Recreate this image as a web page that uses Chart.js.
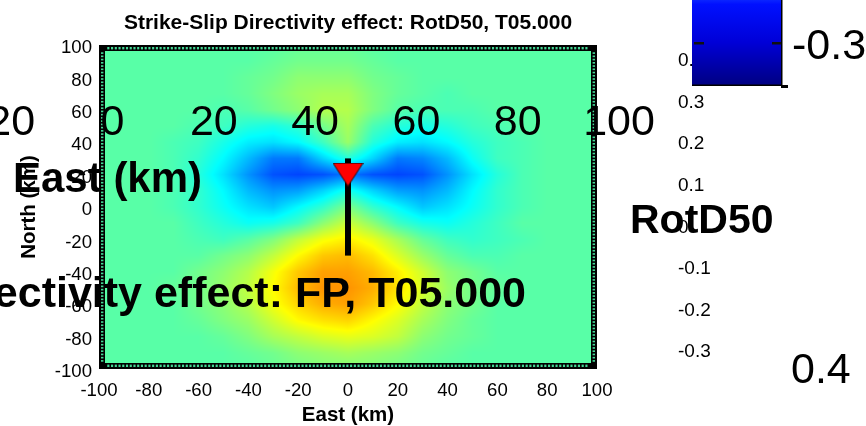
<!DOCTYPE html>
<html>
<head>
<meta charset="utf-8">
<script src="https://cdn.jsdelivr.net/npm/chart.js@4.4.1/dist/chart.umd.min.js"></script>
<style>
  html, body { margin: 0; padding: 0; background: #ffffff; }
  canvas { display: block; }
</style>
</head>
<body>
<canvas id="map" width="866" height="426"></canvas>
<script>
// Grid nodes of the directivity field (km)
const eastKm = [-100, -90, -80, -70, -60, -50, -40, -30, -20, -10, 0, 10, 20, 30, 40, 50, 60, 70, 80, 90, 100];
const northKm = [100, 90, 80, 70, 60, 50, 40, 30, 20, 10, 0, -10, -20, -30, -40, -50, -60, -70, -80, -90, -100];

// RotD50 directivity effect, one row per northKm value, one column per eastKm value
const rotd50Effect = [
  [0, 0, 0, 0, 0, 0, 0, 0, 0.01, 0.01, 0.01, 0, 0, 0, 0, 0, 0, 0, 0, 0, 0],
  [0, 0, 0, 0, 0, 0, 0, 0.01, 0.02, 0.02, 0.02, 0.01, 0, 0, 0, 0, 0, 0, 0, 0, 0],
  [0, 0, 0, 0, 0, 0, 0.01, 0.02, 0.04, 0.04, 0.04, 0.02, 0.01, 0, 0, 0, 0, 0, 0, 0, 0],
  [0, 0, 0, 0, 0, 0, 0.01, 0.03, 0.05, 0.06, 0.06, 0.03, 0.01, 0, -0.01, 0, 0, 0, 0, 0, 0],
  [0, 0, 0, 0, 0, -0.01, 0, 0.02, 0.04, 0.07, 0.07, 0.03, 0, -0.01, -0.01, -0.01, 0, 0, 0, 0, 0],
  [0, 0, 0, 0, -0.01, -0.02, -0.04, -0.05, -0.03, 0.02, 0.06, -0.01, -0.04, -0.05, -0.04, -0.02, -0.01, 0, 0, 0, 0],
  [0, 0, 0, -0.01, -0.02, -0.05, -0.08, -0.09, -0.07, -0.02, 0.05, -0.04, -0.08, -0.09, -0.07, -0.04, -0.02, -0.01, 0, 0, 0],
  [0, 0, 0, -0.01, -0.03, -0.07, -0.12, -0.17, -0.17, -0.10, -0.04, -0.10, -0.17, -0.16, -0.12, -0.06, -0.02, -0.01, 0, 0, 0],
  [0, 0, 0, -0.01, -0.04, -0.09, -0.15, -0.20, -0.21, -0.20, -0.17, -0.20, -0.21, -0.20, -0.15, -0.09, -0.04, -0.01, 0, 0, 0],
  [0, 0, 0, -0.01, -0.03, -0.07, -0.12, -0.15, -0.14, -0.10, -0.05, -0.10, -0.14, -0.15, -0.12, -0.07, -0.03, -0.01, 0, 0, 0],
  [0, 0, 0, -0.01, -0.03, -0.06, -0.09, -0.11, -0.07, -0.03, 0.03, -0.03, -0.07, -0.11, -0.09, -0.06, -0.03, -0.01, 0, 0, 0],
  [0, 0, 0, 0, -0.02, -0.04, -0.06, -0.05, -0.02, 0.04, 0.09, 0.04, -0.02, -0.05, -0.06, -0.04, -0.02, 0, 0, 0, 0],
  [0, 0, 0, 0, -0.01, -0.02, 0, 0.03, 0.08, 0.12, 0.14, 0.11, 0.06, 0.01, -0.02, -0.03, -0.02, -0.01, 0, 0, 0],
  [0, 0, 0, 0, 0, 0.02, 0.04, 0.08, 0.13, 0.17, 0.18, 0.15, 0.10, 0.05, 0.01, -0.01, -0.01, 0, 0, 0, 0],
  [0, 0, 0, 0, 0.02, 0.04, 0.07, 0.12, 0.17, 0.20, 0.20, 0.18, 0.14, 0.09, 0.04, 0.02, 0, 0, 0, 0, 0],
  [0, 0, 0, 0.01, 0.02, 0.05, 0.08, 0.13, 0.18, 0.21, 0.21, 0.19, 0.15, 0.10, 0.05, 0.02, 0.01, 0, 0, 0, 0],
  [0, 0, 0, 0, 0.02, 0.04, 0.07, 0.12, 0.16, 0.19, 0.20, 0.17, 0.13, 0.08, 0.04, 0.02, 0, 0, 0, 0, 0],
  [0, 0, 0, 0, 0.01, 0.03, 0.05, 0.09, 0.13, 0.15, 0.16, 0.13, 0.10, 0.06, 0.03, 0.01, 0, 0, 0, 0, 0],
  [0, 0, 0, 0, 0, 0.01, 0.03, 0.06, 0.08, 0.10, 0.11, 0.10, 0.08, 0.04, 0.02, 0.01, 0, 0, 0, 0, 0],
  [0, 0, 0, 0, 0, 0, 0.01, 0.02, 0.04, 0.05, 0.06, 0.05, 0.04, 0.02, 0.01, 0, 0, 0, 0, 0, 0],
  [0, 0, 0, 0, 0, 0, 0, 0.01, 0.02, 0.03, 0.03, 0.03, 0.02, 0.01, 0, 0, 0, 0, 0, 0, 0]
];

// Fault trace and hypocentre
const faultEast = [0, 0];
const faultNorth = [-30, 30];
const hypoEast = [0];
const hypoNorth = [20];

// Colour limits of the jet scale
const colorLimits = [-0.36, 0.42];

// Texts
const mainTitle = 'Strike-Slip Directivity effect: RotD50, T05.000';
const wideTitle = 'Strike-Slip Directivity effect: FP, T05.000';
const colorbarTickLabels = ['0.4', '0.3', '0.2', '0.1', '0', '-0.1', '-0.2', '-0.3'];
const wideEastTickLabels = ['-20', '0', '20', '40', '60', '80', '100'];

const SANS = '"Liberation Sans", Arial, Helvetica, sans-serif';

function jet(t) {
  t = Math.max(0, Math.min(1, t));
  const c = v => Math.max(0, Math.min(1, v));
  return [c(1.5 - Math.abs(4 * t - 3)), c(1.5 - Math.abs(4 * t - 2)), c(1.5 - Math.abs(4 * t - 1))];
}

function sampleField(e, n) {
  const nc = eastKm.length, nr = northKm.length;
  let fc = (e - eastKm[0]) / (eastKm[1] - eastKm[0]);
  let fr = (northKm[0] - n) / (northKm[0] - northKm[1]);
  fc = Math.max(0, Math.min(nc - 1, fc));
  fr = Math.max(0, Math.min(nr - 1, fr));
  const c0 = Math.min(nc - 2, Math.floor(fc)), r0 = Math.min(nr - 2, Math.floor(fr));
  const tc = fc - c0, tr = fr - r0;
  const a = rotd50Effect[r0][c0], b = rotd50Effect[r0][c0 + 1];
  const c = rotd50Effect[r0 + 1][c0], d = rotd50Effect[r0 + 1][c0 + 1];
  return (a * (1 - tc) + b * tc) * (1 - tr) + (c * (1 - tc) + d * tc) * tr;
}

// Filled field drawn behind the fault and hypocentre
const fieldPlugin = {
  id: 'fieldPlugin',
  beforeDatasetsDraw(chart) {
    const { ctx, chartArea: ca, scales: { x, y } } = chart;
    const w = Math.round(ca.right - ca.left), h = Math.round(ca.bottom - ca.top);
    const off = document.createElement('canvas');
    off.width = w; off.height = h;
    const octx = off.getContext('2d');
    const img = octx.createImageData(w, h);
    const span = colorLimits[1] - colorLimits[0];
    for (let j = 0; j < h; j++) {
      const n = y.getValueForPixel(ca.top + j + 0.5);
      for (let i = 0; i < w; i++) {
        const e = x.getValueForPixel(ca.left + i + 0.5);
        const v = sampleField(e, n);
        const rgb = jet((v - colorLimits[0]) / span);
        const k = (j * w + i) * 4;
        img.data[k] = Math.round(rgb[0] * 255);
        img.data[k + 1] = Math.round(rgb[1] * 255);
        img.data[k + 2] = Math.round(rgb[2] * 255);
        img.data[k + 3] = 255;
      }
    }
    octx.putImageData(img, 0, 0);
    ctx.drawImage(off, ca.left, ca.top);
  }
};

// Heavy axes box with crowded minor ticks
const framePlugin = {
  id: 'framePlugin',
  afterDatasetsDraw(chart) {
    const { ctx, chartArea: { left, right, top, bottom }, scales: { x, y } } = chart;
    const band = 6;
    ctx.save();
    ctx.fillStyle = '#000';
    ctx.fillRect(left, top, right - left, band);
    ctx.fillRect(left, bottom - band, right - left, band);
    ctx.fillRect(left, top, band, bottom - top);
    ctx.fillRect(right - band, top, band, bottom - top);
    ctx.fillStyle = '#44d896';
    for (let v = -100; v < 100; v += 1.5) {
      const a = x.getPixelForValue(v), b = x.getPixelForValue(Math.min(100, v + 1.5));
      if (a < left + band || b > right - band) continue;
      ctx.fillRect(a + 0.8, top + 2, b - a - 1.6, 2.4);
      ctx.fillRect(a + 0.8, bottom - band + 1.6, b - a - 1.6, 2.4);
    }
    for (let v = -100; v < 100; v += 2) {
      const a = y.getPixelForValue(v + 2), b = y.getPixelForValue(v);
      if (a < top + band || b > bottom - band) continue;
      ctx.fillRect(left + 2, a + 0.8, 2.4, b - a - 1.6);
      ctx.fillRect(right - band + 1.6, a + 0.8, 2.4, b - a - 1.6);
    }
    ctx.restore();
  }
};

// Colour bar fragment and the large stray labels
const overlayPlugin = {
  id: 'overlayPlugin',
  afterDraw(chart) {
    const { ctx } = chart;
    ctx.save();
    ctx.fillStyle = '#000';

    // colour bar tick labels
    ctx.font = '19px ' + SANS;
    ctx.textAlign = 'left';
    ctx.textBaseline = 'middle';
    colorbarTickLabels.forEach((t, i) => ctx.fillText(t, 678, 61 + i * 41.6));

    // colour bar
    const g = ctx.createLinearGradient(0, 0, 0, 85);
    g.addColorStop(0, 'rgb(10,36,255)');
    g.addColorStop(0.05, 'rgb(0,16,255)');
    g.addColorStop(0.5, 'rgb(0,0,215)');
    g.addColorStop(1, 'rgb(0,0,130)');
    ctx.fillStyle = g;
    ctx.fillRect(692, 0, 90, 85);
    ctx.fillStyle = '#000';
    ctx.fillRect(781, 0, 1.5, 86);
    ctx.fillRect(692, 84.5, 90, 1.5);
    ctx.fillRect(781, 85, 7, 3);
    ctx.fillStyle = '#111';
    ctx.fillRect(694, 42, 10, 2.5);
    ctx.fillRect(772, 42, 9, 2.5);

    // large labels
    ctx.fillStyle = '#000';
    ctx.font = '43px ' + SANS;
    ctx.textBaseline = 'alphabetic';
    ctx.textAlign = 'left';
    wideEastTickLabels.forEach((t, i) => {
      const digits = t.replace('-', '');
      const dw = ctx.measureText(digits).width;
      const mw = t.startsWith('-') ? ctx.measureText('-').width : 0;
      const cx = 112.5 + i * 101.3 - 101.3;
      ctx.fillText(t, cx - dw / 2 - mw, 135);
    });
    ctx.fillText('-0.3', 792, 59);
    ctx.fillText('0.4', 791, 383);

    ctx.font = 'bold 42px ' + SANS;
    ctx.fillText('East (km)', 13, 192);
    ctx.font = 'bold 41px ' + SANS;
    ctx.fillText('RotD50', 630, 233);
    ctx.font = 'bold 43px ' + SANS;
    ctx.textAlign = 'right';
    ctx.fillText(wideTitle, 526, 307);
    ctx.restore();
  }
};

// Hypocentre marker: downward red triangle
const hypoMarker = document.createElement('canvas');
hypoMarker.width = 31; hypoMarker.height = 24;
(function () {
  const t = hypoMarker.getContext('2d');
  t.beginPath();
  t.moveTo(0.5, 0.5); t.lineTo(30.5, 0.5); t.lineTo(15.5, 23.5); t.closePath();
  t.fillStyle = '#ff0000'; t.fill();
  t.strokeStyle = '#3a0000'; t.lineWidth = 1; t.stroke();
})();

const tickFont = { family: SANS, size: 18.6 };
const labelFont = { family: SANS, size: 20.5, weight: 'bold', lineHeight: 1 };

new Chart(document.getElementById('map'), {
  type: 'scatter',
  data: {
    datasets: [
      {
        type: 'line',
        data: faultEast.map((e, i) => ({ x: e, y: faultNorth[i] })),
        borderColor: '#000',
        borderWidth: 6,
        pointRadius: 0,
        fill: false,
        order: 2
      },
      {
        type: 'scatter',
        data: hypoEast.map((e, i) => ({ x: e, y: hypoNorth[i] })),
        pointStyle: hypoMarker,
        order: 1
      }
    ]
  },
  options: {
    responsive: false,
    animation: false,
    devicePixelRatio: 1,
    layout: { padding: { left: 0, right: 866 - 597, top: 0, bottom: 0 } },
    plugins: {
      legend: { display: false },
      tooltip: { enabled: false },
      title: {
        display: true,
        fullSize: false,
        text: mainTitle,
        color: '#000',
        font: { family: SANS, size: 21, weight: 'bold', lineHeight: 1.2 },
        padding: { top: 11, bottom: 8.8 }
      }
    },
    scales: {
      x: {
        type: 'linear', min: -100, max: 100,
        ticks: { stepSize: 20, color: '#000', font: tickFont, padding: 11, maxRotation: 0, autoSkip: false },
        grid: { display: false, drawTicks: false },
        border: { display: false },
        title: { display: true, text: 'East (km)', color: '#000', font: labelFont, padding: { top: 0, bottom: 0 } },
        afterFit(s) { s.height = 426 - 369; }
      },
      y: {
        type: 'linear', min: -100, max: 100,
        ticks: { stepSize: 20, color: '#000', font: tickFont, padding: 7, labelOffset: 3, autoSkip: false },
        grid: { display: false, drawTicks: false },
        border: { display: false },
        title: { display: true, text: 'North (km)', color: '#000', font: labelFont, padding: { top: 19, bottom: 0 } },
        afterFit(s) { s.width = 99; }
      }
    }
  },
  plugins: [fieldPlugin, framePlugin, overlayPlugin]
});
</script>
</body>
</html>
